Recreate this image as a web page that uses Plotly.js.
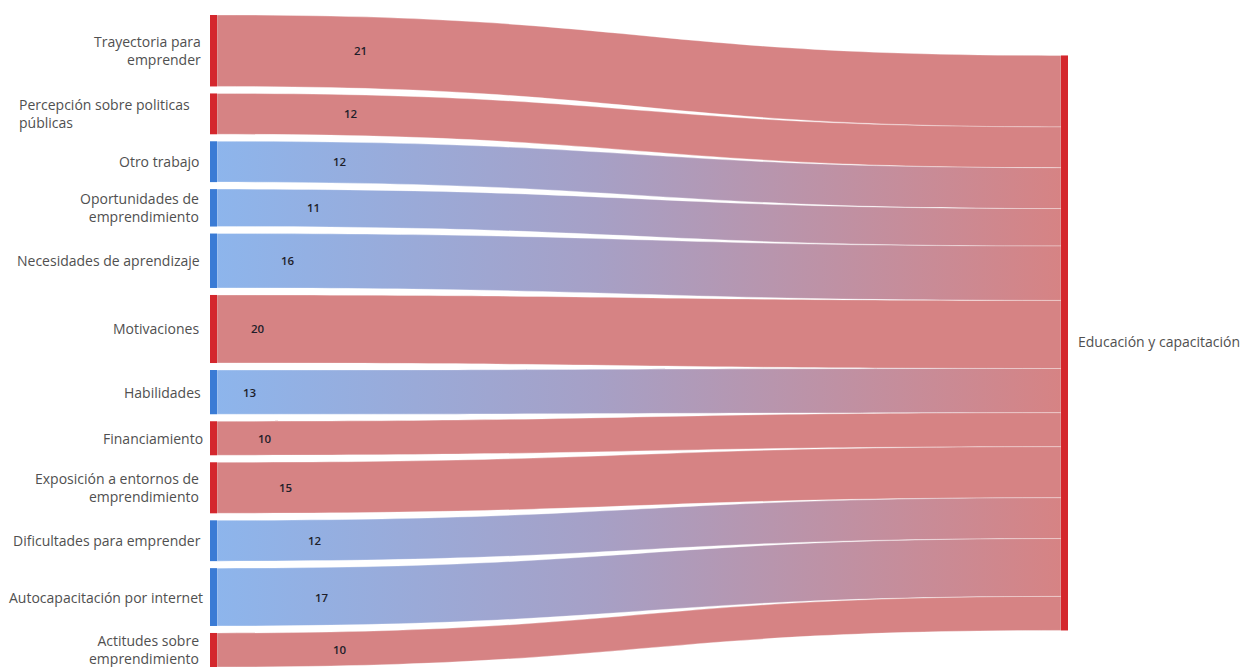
<!DOCTYPE html>
<html><head><meta charset="utf-8">
<script src="https://cdn.plot.ly/plotly-3.0.1.min.js"></script>
<style>html,body{margin:0;padding:0;overflow:hidden;background:#fff}</style>
</head><body>
<div id="chart" style="width:1245px;height:667px"></div>
<script>
// ---- data ----
const sourceLabels = [
  'Trayectoria para<br>emprender',
  'Percepción sobre politicas<br>públicas',
  'Otro trabajo',
  'Oportunidades de<br>emprendimiento',
  'Necesidades de aprendizaje',
  'Motivaciones',
  'Habilidades',
  'Financiamiento',
  'Exposición a entornos de<br>emprendimiento',
  'Dificultades para emprender',
  'Autocapacitación por internet',
  'Actitudes sobre<br>emprendimiento'
];
const targetLabel = 'Educación y capacitación';
const linkValues = [21, 12, 12, 11, 16, 20, 13, 10, 15, 12, 17, 10];
const sourceGroup = ['red','red','blue','blue','blue','red','blue','red','red','blue','blue','red'];

// ---- styles / layout config ----
const W = 1245, Hfig = 667;
const margin = {l: 210, r: 177, t: 15, b: 0};
const plotW = W - margin.l - margin.r, plotH = Hfig - margin.t - margin.b;
const pad = 7, thick = 7;
const nodeColors = {red: '#d4272d', blue: '#3a7bd5'};
const linkColors = {red: 'rgb(214,131,132)', blue: 'rgb(141,181,236)'};
const labelAlign = ['right','left','right','right','right','right','right','right','right','right','right','right'];
const labelShift = [-7,-18,-9,-9,-8,-9,-7,-5,-9,-7,-5,-9];
const valueLabelPx = [360,351,340,313,288,258,250,265,285,315,322,340];
const labelFont = {family:'Open Sans, sans-serif', size:14, color:'#505050'};

// ---- geometry derived from data ----
const total = linkValues.reduce((a,b)=>a+b,0);
const n = linkValues.length;
const ky = (plotH - (n-1)*pad) / total;
const centers = [];
let acc = 0;
linkValues.forEach((v,i)=>{
  centers.push((acc*ky + i*pad + v*ky/2)/plotH);
  acc += v;
});

const nodeLabels = sourceLabels.concat([targetLabel]);
const nodeX = sourceLabels.map(()=> (thick/2)/plotW).concat([1 - (thick/2)/plotW]);
const nodeY = centers.concat([0.503]);

const data = [{
  type: 'sankey',
  arrangement: 'fixed',
  domain: {x:[0,1], y:[0,1]},
  node: {
    label: nodeLabels.map(s=>s.replace('<br>',' ')),
    x: nodeX, y: nodeY,
    pad: pad, thickness: thick,
    color: sourceGroup.map(g=>nodeColors[g]).concat([nodeColors.red]),
    line: {width: 0},
    hoverinfo: 'all'
  },
  link: {
    source: linkValues.map((v,i)=>i),
    target: linkValues.map(()=>n),
    value: linkValues,
    color: sourceGroup.map(g=>linkColors[g]),
    line: {width: 0.6, color: 'rgba(255,255,255,0.55)'}
  },
  textfont: {color: 'rgba(0,0,0,0)', size: 1}
}];

const annotations = [];
sourceLabels.forEach((s,i)=>{
  annotations.push({
    xref:'paper', yref:'paper', x:0, y:1-centers[i],
    xanchor:'right', yanchor:'middle', xshift: labelShift[i],
    text: s, showarrow:false, align: labelAlign[i],
    font: labelFont
  });
  annotations.push({
    xref:'paper', yref:'paper', x:(valueLabelPx[i]-margin.l)/plotW, y:1-centers[i],
    xanchor:'center', yanchor:'middle',
    text: String(linkValues[i]), showarrow:false,
    font:{family:'Open Sans, sans-serif', size:11.5, color:'#1e1e2a', weight:600}
  });
});
annotations.push({
  xref:'paper', yref:'paper', x:1, y:0.5, xanchor:'left', yanchor:'middle', xshift:8,
  text: targetLabel, showarrow:false,
  font: labelFont
});

const layout = {
  width: W, height: Hfig, margin: margin,
  paper_bgcolor:'#fff', plot_bgcolor:'#fff',
  font:{family:'Open Sans, sans-serif'},
  annotations: annotations,
  showlegend:false
};

Plotly.newPlot('chart', data, layout, {displayModeBar:false}).then(gd=>{
  const ns = 'http://www.w3.org/2000/svg';
  const svg = gd.querySelector('svg.main-svg');
  let defs = svg.querySelector('defs');
  if (!defs) { defs = document.createElementNS(ns,'defs'); svg.insertBefore(defs, svg.firstChild); }
  const grad = document.createElementNS(ns,'linearGradient');
  grad.setAttribute('id','blueToRed');
  grad.setAttribute('x1','0'); grad.setAttribute('y1','0');
  grad.setAttribute('x2','1'); grad.setAttribute('y2','0');
  [['0%','rgb(141,181,236)'],['45%','rgb(166,160,198)'],['100%','rgb(214,131,132)']].forEach(([o,c])=>{
    const st = document.createElementNS(ns,'stop');
    st.setAttribute('offset',o); st.setAttribute('stop-color',c);
    grad.appendChild(st);
  });
  defs.appendChild(grad);
  const blue = linkColors.blue.replace(/\s/g,'');
  gd.querySelectorAll('path.sankey-link').forEach(p=>{
    const f = (p.style.fill||'').replace(/\s/g,'');
    if (f === blue) p.style.fill = 'url(#blueToRed)';
  });
});
</script>
</body></html>
